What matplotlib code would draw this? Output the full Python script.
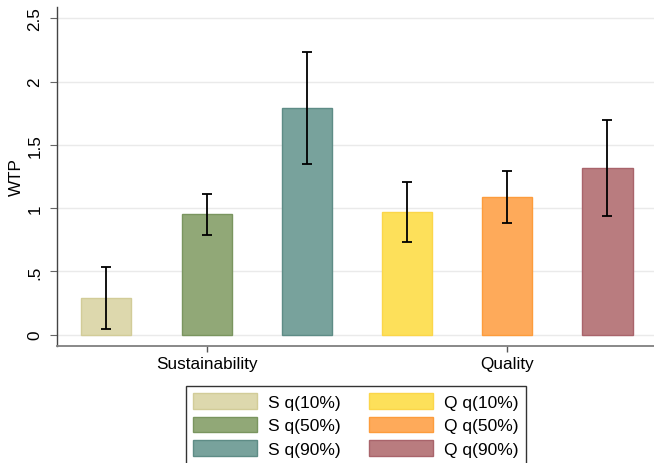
import matplotlib
matplotlib.use("Agg")
import matplotlib.pyplot as plt

plt.rcParams['font.family'] = ['Liberation Sans', 'DejaVu Sans']

# WTP means and confidence bounds
labels = ["S q(10%)", "S q(50%)", "S q(90%)", "Q q(10%)", "Q q(50%)", "Q q(90%)"]
wtp = [0.29, 0.95, 1.79, 0.97, 1.085, 1.32]
ci_low = [0.045, 0.79, 1.35, 0.735, 0.88, 0.94]
ci_high = [0.535, 1.11, 2.235, 1.205, 1.29, 1.70]
groups = ["Sustainability", "Quality"]

fills = ["#DDD8AD", "#91A877", "#78A29C", "#FDE05A", "#FEAA5A", "#B97C7F"]
edges = ["#D2CC98", "#7A955F", "#5E8C86", "#FBD64A", "#FD9C3C", "#A9646B"]

fig = plt.figure(figsize=(6.54, 4.64), dpi=100)
ax = fig.add_axes([0.0867, 0.2528, 0.9133, 0.7293])

x = list(range(len(wtp)))
yerr = [[w - lo for w, lo in zip(wtp, ci_low)],
        [hi - w for w, hi in zip(wtp, ci_high)]]

bars = ax.bar(x, wtp, width=0.5, color=fills, edgecolor=edges, linewidth=1.0,
              label=labels, zorder=2)
ax.errorbar(x, wtp, yerr=yerr, fmt='none', ecolor='black', elinewidth=1.3,
            capsize=3.5, capthick=1.3, zorder=3)

ax.set_xlim(-0.496, 5.464)
ax.set_ylim(-0.087, 2.587)
ax.set_yticks([0, 0.5, 1, 1.5, 2, 2.5])
ax.set_yticklabels(["0", ".5", "1", "1.5", "2", "2.5"])
ax.yaxis.grid(True, color="#EAEAEA", linewidth=1.0, zorder=0)
ax.set_axisbelow(True)

ax.set_xticks([1, 4])
ax.set_xticklabels(groups)

for s in ["top", "right"]:
    ax.spines[s].set_visible(False)
ax.spines["left"].set_color("#444444")
ax.spines["bottom"].set_color("#7F7F7F")
ax.spines["left"].set_linewidth(1.0)
ax.spines["bottom"].set_linewidth(1.3)

ax.tick_params(axis='y', length=5.3, width=0.8, color="#666666", pad=5,
               labelsize=12.3)
ax.tick_params(axis='x', length=4.3, width=1.0, color="#555555", pad=3,
               labelsize=12.3)
for lab in ax.get_yticklabels():
    lab.set_rotation(90)
    lab.set_va('center')

ax.set_ylabel("WTP", fontsize=12.3, labelpad=2.4)

leg = fig.legend(handles=bars.patches, labels=labels, ncol=2,
                 loc='upper left', bbox_to_anchor=(186 / 654, 1 - 386.7 / 464),
                 fontsize=12.5, frameon=True, fancybox=False,
                 handlelength=3.68, handleheight=1.0, handletextpad=0.64,
                 columnspacing=1.62, labelspacing=0.40, borderpad=0.42,
                 borderaxespad=0)
leg.get_frame().set_edgecolor("black")
leg.get_frame().set_linewidth(1.0)

fig.savefig("out.png", dpi=100)
